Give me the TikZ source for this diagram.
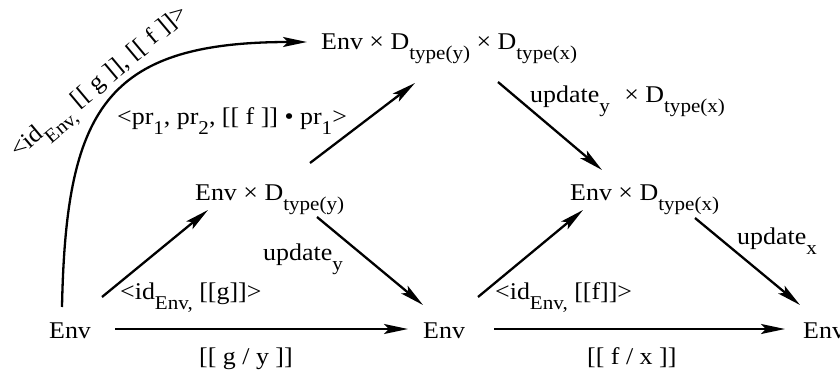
\documentclass[tikz,border=0pt]{standalone}
\usepackage{fontspec}
\setmainfont{Liberation Serif}[FakeStretch=1.08]
\usetikzlibrary{arrows.meta,calc}
\newcommand\sbs[1]{\raisebox{-10pt}{\fontsize{19.5}{19.5}\selectfont #1}}
\begin{document}
\begin{tikzpicture}[x=1pt,y=-1pt,
  lbl/.style={inner sep=0pt,anchor=base west,font=\fontsize{24}{24}\selectfont},
  arr/.style={line width=2.3pt,-{Stealth[length=24pt,width=10pt,inset=5pt]}}]
\useasboundingbox (0,0) rectangle (840,372);
% objects
\node[lbl] (L) at (49,338) {Env};
\node[lbl] (M) at (423,338) {Env};
\node[lbl] (R) at (803,338) {Env};
\node[lbl] (Dy) at (195,200) {Env × D\sbs{type(y)}};
\node[lbl] (Dx) at (570,200) {Env × D\sbs{type(x)}};
\node[lbl] (T) at (321,49) {Env × D\sbs{type(y)} × D\sbs{type(x)}};
% labels
\node[lbl] (lgy) at (199,364) {[[ g / y ]]};
\node[lbl] (lfx) at (587,364) {[[ f / x ]]};
\node[lbl] (lig) at (120,299) {<id\sbs{Env,} [[g]]>};
\node[lbl] (lif) at (495,299) {<id\sbs{Env,} [[f]]>};
\node[lbl] (luy) at (263,260) {update\sbs{y}};
\node[lbl] (lux) at (737,244) {update\sbs{x}};
\node[lbl] (luyx) at (530,102) {update\sbs{y}\hspace{8pt} × D\sbs{type(x)}};
\node[lbl] (lpr) at (117,124) {<pr\sbs{1}, pr\sbs{2}, [[ f ]] • pr\sbs{1}>};
\node[lbl,rotate=40] (lc) at (18,159) {<id\sbs{Env,} [[ g ]], [[ f ]]>};
% arrows
\draw[arr] ($(L.base west)+(66,-9)$) -- ($(M.base west)+(-15,-9)$);
\draw[arr] ($(M.base west)+(71,-9)$) -- ($(R.base west)+(-18,-9)$);
\draw[arr] ($(L.base west)+(53,-41)$) -- ($(Dy.base west)+(13,10)$);
\draw[arr] ($(Dy.base west)+(122,17)$) -- ($(M.base west)+(0,-33)$);
\draw[arr] ($(Dy.base west)+(115,-37)$) -- ($(T.base west)+(94,34)$);
\draw[arr] ($(T.base west)+(177,33)$) -- ($(Dx.base west)+(32,-30)$);
\draw[arr] ($(M.base west)+(55,-41)$) -- ($(Dx.base west)+(13,10)$);
\draw[arr] ($(Dx.base west)+(125,18)$) -- ($(R.base west)+(-3,-33)$);
\draw[arr] ($(L.base west)+(13,-31)$) .. controls ($(L.base west)+(17,-228)$) and ($(T.base west)+(-216,-7)$) .. ($(T.base west)+(-14,-7)$);
\end{tikzpicture}
\end{document}
